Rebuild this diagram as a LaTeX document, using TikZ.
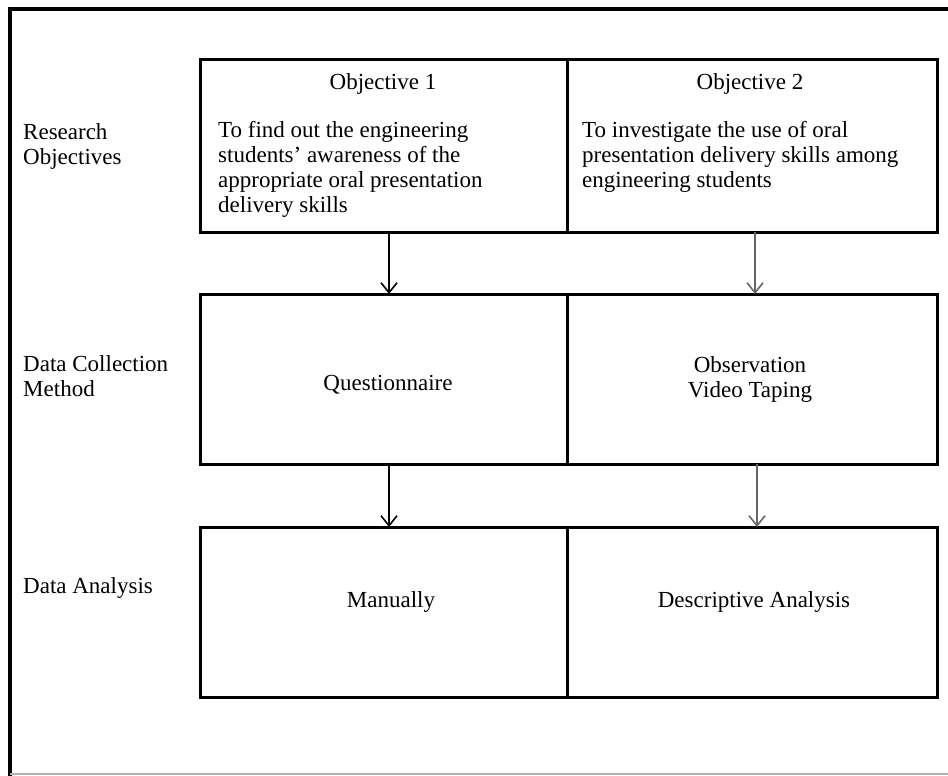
\documentclass[tikz,border=0pt]{standalone}
\usepackage{fontspec}
\setmainfont{Liberation Serif}
\usetikzlibrary{arrows.meta}
\begin{document}
\begin{tikzpicture}[x=1pt,y=-1pt,
  box/.style={draw, line width=3pt, inner sep=0pt, outer sep=0pt, minimum height=170pt},
  lbl/.style={inner sep=0pt, font=\fontsize{23}{25}\selectfont, align=left, anchor=base west},
  ctr/.style={inner sep=0pt, font=\fontsize{23}{25}\selectfont, align=center, anchor=base},
  arr/.style={line width=1.8pt, -{Straight Barb[length=10pt,width=16pt,line width=1.6pt]}},
  arrg/.style={arr, draw=black!60}
]
\useasboundingbox (0,0) rectangle (948,776);
\draw[line width=3.2pt] (948,9) -- (10,9) -- (10,776);
\draw[line width=1.2pt, black!30] (10,774) -- (948,774);

\node[box, minimum width=367pt, minimum height=172pt] (b11) at (383.5,146) {};
\node[box, minimum width=370pt, minimum height=172pt] (b12) at (752,146) {};
\node[box, minimum width=367pt] (b21) at (383.5,379) {};
\node[box, minimum width=370pt] (b22) at (752,379) {};
\node[box, minimum width=367pt] (b31) at (383.5,612) {};
\node[box, minimum width=370pt] (b32) at (752,612) {};

\draw[arr] ([xshift=5.5pt]b11.south) -- ([xshift=5.5pt]b21.north);
\draw[arrg] ([xshift=3pt]b12.south) -- ([xshift=3pt]b22.north);
\draw[arr] ([xshift=5.5pt]b21.south) -- ([xshift=5.5pt]b31.north);
\draw[arrg] ([xshift=5pt]b22.south) -- ([xshift=5pt]b32.north);

\node[lbl] (l1) at (23,164) {Research\\Objectives};
\node[lbl] (l2) at (23,396) {Data Collection\\Method};
\node[lbl] (l3) at (23,593) {Data Analysis};
\node[ctr] (t1) at (383,89) {Objective 1};
\node[ctr] (t2) at (750,89) {Objective 2};
\node[lbl] (o1) at (218,212) {To find out the engineering\\students' awareness of the\\appropriate oral presentation\\delivery skills};
\node[lbl] (o2) at (582,187) {To investigate the use of oral\\presentation delivery skills among\\engineering students};
\node[ctr] (q) at (388,390) {Questionnaire};
\node[ctr] (ov) at (750,397) {Observation\\Video Taping};
\node[ctr] (m) at (391,607) {Manually};
\node[ctr] (d) at (754,607) {Descriptive Analysis};
\end{tikzpicture}
\end{document}
